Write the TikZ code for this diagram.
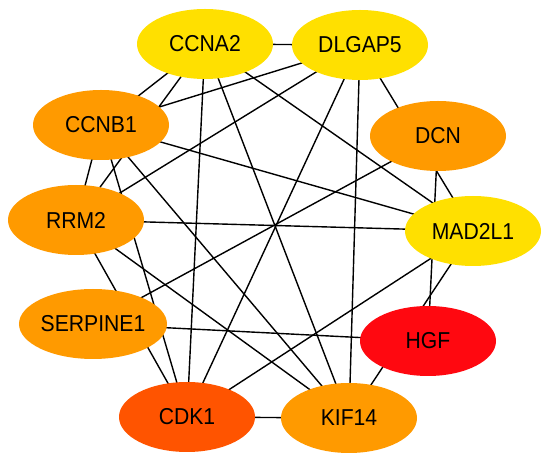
\documentclass[tikz,border=0pt]{standalone}
\usepackage{fontspec}
\setmainfont{Liberation Sans}[FakeStretch=0.92]
\usetikzlibrary{shapes.geometric}
\pgfdeclarelayer{bg}
\pgfdeclarelayer{paper}
\pgfsetlayers{paper,bg,main}
\definecolor{gyellow}{RGB}{255,224,0}
\definecolor{gorange}{RGB}{255,154,0}
\definecolor{gdeep}{RGB}{255,84,0}
\definecolor{gred}{RGB}{255,8,16}
\begin{document}
\begin{tikzpicture}[x=1pt,y=-1pt,
  gene/.style={ellipse, minimum width=136pt, minimum height=70pt, inner sep=0pt,
    font=\fontsize{23}{27}\selectfont, text=black},
  edge/.style={line width=1.4pt, black}]
\begin{pgfonlayer}{paper}
\fill[white] (0,0) rectangle (550,462);
\end{pgfonlayer}
\useasboundingbox (0,0) rectangle (550,462);
\node[gene, fill=gyellow] (A) at (205,44) {CCNA2};
\node[gene, fill=gyellow] (D) at (360,45) {DLGAP5};
\node[gene, fill=gorange] (B) at (101,125) {CCNB1};
\node[gene, fill=gorange] (N) at (438,136) {DCN};
\node[gene, fill=gorange] (R) at (76,220) {RRM2};
\node[gene, fill=gyellow] (M) at (473,231) {MAD2L1};
\node[gene, fill=gorange] (S) at (93,324) {SERPINE1};
\node[gene, fill=gred] (H) at (428,341) {HGF};
\node[gene, fill=gdeep] (C) at (187,417) {CDK1};
\node[gene, fill=gorange] (K) at (349,418) {KIF14};
\begin{pgfonlayer}{bg}
\foreach \u/\v in {A/D, A/B, A/R, A/C, A/K, A/M, D/B, D/R, D/C, D/K, D/M,
  B/R, B/M, B/C, B/K, R/M, R/C, R/K, N/S, N/H, S/H, C/K, C/M, M/K}
  \draw[edge] (\u.center) -- (\v.center);
\end{pgfonlayer}
\end{tikzpicture}
\end{document}
